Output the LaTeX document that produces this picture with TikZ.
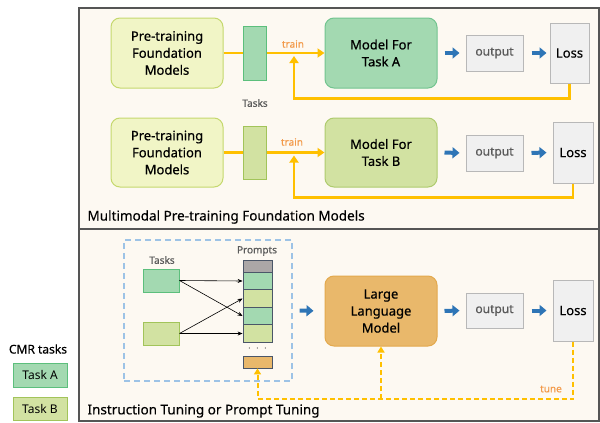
\documentclass[tikz,border=0pt]{standalone}
\usepackage{fontspec}
\setmainfont{Noto Sans}
\newfontfamily\medfont{Noto Sans}[FakeBold=0.6]
\newfontfamily\lightmed{Noto Sans}[FakeBold=0.3]
\usetikzlibrary{arrows.meta}
\definecolor{panelfill}{HTML}{FDF9F2}
\definecolor{panelline}{HTML}{555555}
\definecolor{prefill}{HTML}{F1F5C6}
\definecolor{preline}{HTML}{C5D86D}
\definecolor{gAfill}{HTML}{A3D9B1}
\definecolor{gAline}{HTML}{5CBF7C}
\definecolor{gBfill}{HTML}{D2E2A2}
\definecolor{gBline}{HTML}{A2C45A}
\definecolor{mAline}{HTML}{72C48F}
\definecolor{mBline}{HTML}{AECB6E}
\definecolor{llmfill}{HTML}{E9B86B}
\definecolor{llmline}{HTML}{E3A94D}
\definecolor{outfill}{HTML}{F0F0F0}
\definecolor{outline}{HTML}{B8B8B8}
\definecolor{cellline}{HTML}{4A5668}
\definecolor{cellgray}{HTML}{ABA7A7}
\definecolor{dashblue}{HTML}{9DC3E6}
\definecolor{yel}{HTML}{FFC000}
\definecolor{orangetxt}{HTML}{F39A4A}
\definecolor{blu}{HTML}{2E75B6}
\definecolor{graytxt}{HTML}{5A5A5A}
\tikzset{
  panel/.style={draw=panelline, fill=panelfill, line width=1.3pt},
  bigbox/.style={draw, rounded corners=9pt, line width=1pt, align=center, inner sep=0pt,
    font=\medfont\fontsize{13}{17}\selectfont, text=black},
  sq/.style={draw, line width=1pt, inner sep=0pt},
  outbox/.style={sq, draw=outline, fill=outfill, font=\medfont\fontsize{12}{14}\selectfont, text=graytxt},
  lossbox/.style={sq, draw=outline, fill=outfill, font=\lightmed\fontsize{13}{15}\selectfont, text=black},
  cell/.style={draw=cellline, line width=0.8pt, inner sep=0pt, minimum width=29pt, minimum height=17.5pt},
  yline/.style={draw=yel, line width=2.5pt},
  yarr/.style={yline, -{Triangle[length=7pt,width=9pt]}},
  ydash/.style={draw=yel, line width=2pt, dash pattern=on 5pt off 3pt},
  ydarr/.style={ydash, -{Triangle[length=6pt,width=7pt]}},
  barr/.style={draw=blu, line width=4pt, -{Triangle[length=7pt,width=11pt]}},
  karr/.style={draw=black, line width=0.6pt, -{Stealth[length=5pt,width=4pt]}},
  smalllbl/.style={font=\medfont\fontsize{10}{12}\selectfont},
  panellbl/.style={anchor=west, font=\lightmed\fontsize{13.5}{15}\selectfont},
}
\begin{document}
\begin{tikzpicture}[x=1pt,y=-1pt]
\useasboundingbox (0,0) rectangle (600,423);
% panels
\path[panel] (79,8) rectangle (599,229);
\path[panel] (79,229) rectangle (599,421);

% ---------- row A ----------
\node[bigbox, draw=preline, fill=prefill, minimum width=112pt, minimum height=70pt] (pA) at (167,53) {Pre-training\\Foundation\\Models};
\node[sq, draw=gAline, fill=gAfill, minimum width=23pt, minimum height=54pt] (tA) at (254.5,53) {};
\node[bigbox, draw=mAline, fill=gAfill, minimum width=112pt, minimum height=70pt] (mA) at (381,53) {Model For\\Task A};
\node[outbox, minimum width=57pt, minimum height=36pt] (oA) at (494.5,53) {output};
\node[lossbox, minimum width=39pt, minimum height=60pt] (lA) at (569.5,53) {Loss};
\draw[yline] (pA.east) -- (tA.west);
\draw[yarr] (tA.east) -- (mA.west);
\draw[yarr] (lA.south) -- ++(0,15) -| (294,56);
\node[smalllbl, text=orangetxt] (trA) at (293,44) {train};
\draw[barr, shorten <=7pt, shorten >=6pt] (mA.east) -- (oA.west);
\draw[barr, shorten <=8pt, shorten >=3pt] (oA.east) -- (lA.west);
\node[smalllbl, text=graytxt] (tasksTop) at (255,103) {Tasks};

% ---------- row B ----------
\node[bigbox, draw=preline, fill=prefill, minimum width=112pt, minimum height=69pt] (pB) at (167,152.5) {Pre-training\\Foundation\\Models};
\node[sq, draw=gBline, fill=gBfill, minimum width=23pt, minimum height=53pt] (tB) at (254.5,152.5) {};
\node[bigbox, draw=mBline, fill=gBfill, minimum width=112pt, minimum height=69pt] (mB) at (381,152.5) {Model For\\Task B};
\node[outbox, minimum width=57pt, minimum height=36pt] (oB) at (494.5,153) {output};
\node[lossbox, minimum width=40pt, minimum height=61pt] (lB) at (573,152.5) {Loss};
\draw[yline] (pB.east) -- (tB.west);
\draw[yarr] (tB.east) -- (mB.west);
\draw[yarr] (lB.south) -- ++(0,14) -| (294,155.5);
\node[smalllbl, text=orangetxt] (trB) at (292,142) {train};
\draw[barr, shorten <=7pt, shorten >=6pt] (mB.east) -- (oB.west);
\draw[barr, shorten <=8pt, shorten >=6pt] (oB.east) -- (lB.west);

\node[panellbl] (titleTop) at (84,217) {Multimodal Pre-training Foundation Models};

% ---------- bottom panel ----------
\node[draw=dashblue, line width=1.3pt, dash pattern=on 6pt off 4pt, minimum width=168pt, minimum height=141pt, inner sep=0pt] (dbox) at (208,310.5) {};
\node[smalllbl, text=graytxt] (tasksBot) at (162,260) {Tasks};
\node[sq, draw=gAline, fill=gAfill, minimum width=36pt, minimum height=23pt] (sA) at (161,280.5) {};
\node[sq, draw=gBline, fill=gBfill, minimum width=36pt, minimum height=23pt] (sB) at (161,333.5) {};
\node[smalllbl, text=graytxt] (prompts) at (257,251) {Prompts};
\node[cell, fill=cellgray, minimum height=12pt] (c0) at (257.5,266.25) {};
\node[cell, fill=gAfill] (c1) at (257.5,281) {};
\node[cell, fill=gBfill] (c2) at (257.5,298.5) {};
\node[cell, fill=gAfill] (c3) at (257.5,316) {};
\node[cell, fill=gBfill] (c4) at (257.5,333.5) {};
\node[text=graytxt, font=\fontsize{12}{12}\selectfont, inner sep=0pt] (dots) at (257.5,349) {$\cdot\,\cdot\,\cdot$};
\node[cell, fill=llmfill, minimum height=12pt] (c5) at (257.5,362) {};
\draw[karr] (sA.east) -- (c1.west);
\draw[karr] (sA.east) -- (c3.west);
\draw[karr] (sB.east) -- (c2.west);
\draw[karr] (sB.east) -- (c4.west);

\node[bigbox, draw=llmline, fill=llmfill, minimum width=112pt, minimum height=70pt] (llm) at (381,311) {Large\\Language\\Model};
\node[outbox, minimum width=57pt, minimum height=35pt] (oC) at (494.5,310.5) {output};
\node[lossbox, minimum width=40pt, minimum height=61pt] (lC) at (573,310.5) {Loss};
\draw[barr, shorten <=7pt, shorten >=11pt] (dbox.east) -- (llm.west);
\draw[barr, shorten <=7pt, shorten >=6pt] (llm.east) -- (oC.west);
\draw[barr, shorten <=8pt, shorten >=6pt] (oC.east) -- (lC.west);
\coordinate (fb) at (573,399);
\draw[ydarr] (lC.south) -- (fb) -| (c5.south);
\draw[ydarr] (llm.south |- fb) -- (llm.south);
\node[smalllbl, text=orangetxt] (tune) at (551,389) {tune};

\node[panellbl] (titleBot) at (84,411) {Instruction Tuning or Prompt Tuning};

% ---------- legend ----------
\node[font=\medfont\fontsize{12}{14}\selectfont] (cmr) at (38,349) {CMR tasks};
\node[sq, draw=gAline, fill=gAfill, minimum width=54pt, minimum height=24pt, font=\fontsize{12}{14}\selectfont] (lgA) at (40,375) {Task A};
\node[sq, draw=gBline, fill=gBfill, minimum width=54pt, minimum height=23pt, font=\fontsize{12}{14}\selectfont] (lgB) at (40,408.5) {Task B};
\end{tikzpicture}
\end{document}
